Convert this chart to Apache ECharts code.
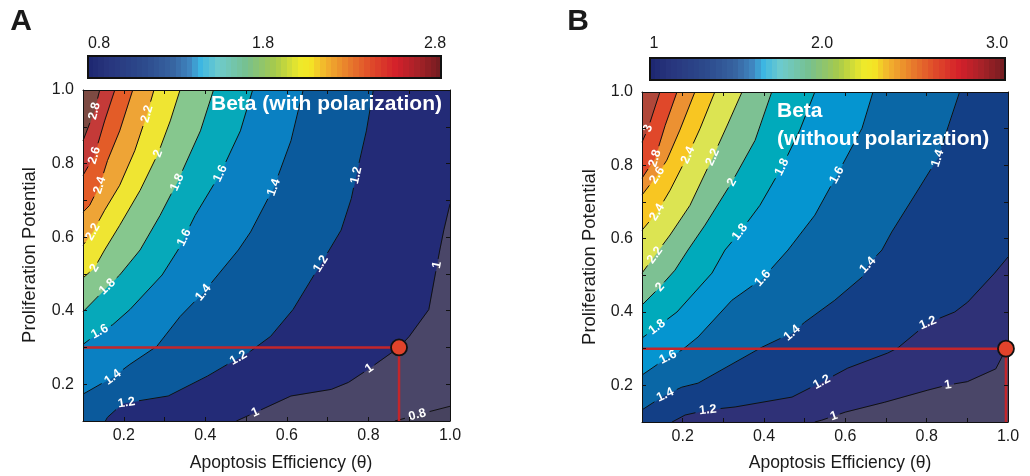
<!DOCTYPE html>
<html><head><meta charset="utf-8">
<script src="https://cdn.jsdelivr.net/npm/echarts@6/dist/echarts.min.js"></script>
<style>html,body{margin:0;padding:0;background:#fff}#c{width:1030px;height:476px}</style>
</head><body><div id="c"></div>
<script>
// ---------- DATA (theta = apoptosis efficiency, P = proliferation potential) ----------
const xTicks = [0.2, 0.4, 0.6, 0.8, 1.0];
const yTicks = [0.2, 0.4, 0.6, 0.8, 1.0];
const cbarTicksA = ['0.8', '1.8', '2.8'];
const cbarTicksB = ['1', '2.0', '3.0'];

// Panel A contour levels and lines (each from upper/right end to left/bottom end)
const levelsA = [0.8, 1.0, 1.2, 1.4, 1.6, 1.8, 2.0, 2.2, 2.4, 2.6, 2.8];
const cA08 = [[1.0,0.14],[0.93,0.12],[0.865,0.1]];
const cA10 = [[1.0,0.69],[0.985,0.62],[0.975,0.565],[0.968,0.524],[0.948,0.403],[0.90,0.33],[0.875,0.3],[0.80,0.241],[0.751,0.205],[0.709,0.186],[0.61,0.168],[0.524,0.124],[0.476,0.1]];
const cA12 = [[0.812,1.0],[0.795,0.889],[0.77,0.768],[0.758,0.705],[0.733,0.619],[0.704,0.565],[0.615,0.403],[0.56,0.33],[0.511,0.29],[0.479,0.27],[0.405,0.222],[0.309,0.168],[0.198,0.148],[0.16,0.11],[0.155,0.1]];
const cA14 = [[0.64,1.0],[0.61,0.862],[0.568,0.735],[0.511,0.614],[0.481,0.565],[0.395,0.449],[0.338,0.384],[0.281,0.303],[0.215,0.254],[0.173,0.219],[0.1,0.173]];
const cA16 = [[0.516,1.0],[0.486,0.889],[0.437,0.773],[0.375,0.659],[0.333,0.565],[0.294,0.497],[0.215,0.403],[0.173,0.362],[0.141,0.343],[0.1,0.308]];
const cA18 = [[0.42,1.0],[0.388,0.889],[0.331,0.749],[0.289,0.659],[0.24,0.565],[0.19,0.497],[0.16,0.465],[0.1,0.397]];
const cA20 = [[0.338,1.0],[0.314,0.916],[0.284,0.827],[0.24,0.727],[0.19,0.632],[0.153,0.565],[0.128,0.516],[0.1,0.489]];
const cA22 = [[0.274,1.0],[0.257,0.935],[0.227,0.835],[0.19,0.741],[0.153,0.673],[0.124,0.614],[0.1,0.578]];
const cA24 = [[0.222,1.0],[0.19,0.889],[0.16,0.808],[0.141,0.741],[0.116,0.686],[0.1,0.668]];
const cA26 = [[0.178,1.0],[0.153,0.916],[0.128,0.822],[0.1,0.768]];
const cA28 = [[0.141,1.0],[0.128,0.943],[0.1,0.862]];
// inline labels: [level, theta, P]
const labelsA = [[2.8,0.128,0.943],[2.6,0.128,0.822],[2.4,0.141,0.741],[2.2,0.257,0.935],[2.2,0.124,0.614],
  [2.0,0.284,0.827],[2.0,0.128,0.516],[1.8,0.331,0.749],[1.8,0.16,0.465],[1.6,0.437,0.773],[1.6,0.351,0.597],[1.6,0.141,0.343],
  [1.4,0.568,0.735],[1.4,0.395,0.449],[1.4,0.173,0.219],[1.2,0.77,0.768],[1.2,0.679,0.53],[1.2,0.479,0.276],[1.2,0.207,0.146],
  [1.0,0.968,0.524],[1.0,0.80,0.246],[1.0,0.519,0.132],[0.8,0.918,0.124]];
const markerA = [0.875, 0.3];

// Panel B
const levelsB = [1.0, 1.2, 1.4, 1.6, 1.8, 2.0, 2.2, 2.4, 2.6, 2.8, 3.0];
const cB10 = [[1.0,0.31],[0.97,0.245],[0.90,0.21],[0.852,0.201],[0.803,0.187],[0.697,0.154],[0.60,0.127],[0.542,0.105],[0.525,0.1]];
const cB12 = [[1.0,0.55],[0.967,0.506],[0.901,0.427],[0.869,0.40],[0.803,0.37],[0.729,0.302],[0.704,0.288],[0.606,0.247],[0.542,0.209],[0.469,0.168],[0.329,0.141],[0.262,0.133],[0.206,0.119],[0.174,0.1]];
const cB14 = [[0.881,1.0],[0.827,0.819],[0.771,0.719],[0.714,0.618],[0.69,0.569],[0.655,0.528],[0.641,0.495],[0.574,0.432],[0.50,0.372],[0.469,0.343],[0.395,0.304],[0.238,0.206],[0.198,0.195],[0.157,0.174],[0.1,0.133]];
const cB16 = [[0.668,1.0],[0.641,0.901],[0.579,0.773],[0.525,0.664],[0.459,0.569],[0.397,0.492],[0.321,0.432],[0.238,0.332],[0.198,0.296],[0.164,0.277],[0.1,0.228]];
const cB18 = [[0.525,1.0],[0.488,0.896],[0.444,0.795],[0.39,0.691],[0.341,0.618],[0.304,0.569],[0.272,0.506],[0.186,0.40],[0.137,0.359],[0.1,0.329]];
const cB20 = [[0.419,1.0],[0.378,0.868],[0.321,0.754],[0.255,0.637],[0.213,0.569],[0.181,0.514],[0.144,0.468],[0.1,0.419]];
const cB22 = [[0.346,1.0],[0.31,0.91],[0.274,0.822],[0.218,0.691],[0.169,0.61],[0.132,0.555],[0.1,0.506]];
const cB24 = [[0.279,1.0],[0.243,0.901],[0.213,0.828],[0.169,0.732],[0.137,0.672],[0.1,0.623]];
const cB26 = [[0.23,1.0],[0.193,0.896],[0.161,0.814],[0.137,0.773],[0.1,0.719]];
const cB28 = [[0.186,1.0],[0.157,0.909],[0.132,0.819],[0.1,0.765]];
const cB30 = [[0.144,1.0],[0.115,0.901],[0.1,0.863]];
const labelsB = [[3.0,0.115,0.901],[2.8,0.132,0.819],[2.6,0.137,0.773],[2.4,0.213,0.828],[2.4,0.137,0.672],
  [2.2,0.274,0.822],[2.2,0.132,0.555],[2.0,0.321,0.754],[2.0,0.144,0.468],[1.8,0.444,0.795],[1.8,0.341,0.618],[1.8,0.137,0.359],
  [1.6,0.579,0.773],[1.6,0.397,0.492],[1.6,0.164,0.277],[1.4,0.827,0.819],[1.4,0.655,0.528],[1.4,0.469,0.343],[1.4,0.157,0.174],
  [1.2,0.803,0.37],[1.2,0.542,0.209],[1.2,0.262,0.133],[1.0,0.852,0.201],[1.0,0.569,0.125]];
const markerB = [0.995, 0.3];

// ---------- STYLE ----------
const fillA = ['#47435f','#4a4668','#232b77','#0b5a9c','#0a80c2','#06a9ba','#86c78e','#efe532','#eea436','#e35c28','#c43a38','#7c4a42'];
const fillB = ['#4a4668','#2f3177','#133f86','#0a67a6','#0595d0','#00aabb','#7dc193','#dce452','#f8c622','#ec9132','#e0482a','#b0473a'];
const cmapStops = [[0,'#1d2670'],[0.06,'#28357d'],[0.16,'#2c4a8c'],[0.24,'#3763a0'],[0.29,'#3f86c0'],[0.32,'#3db6e2'],[0.37,'#6ecbcd'],[0.45,'#77c08e'],[0.53,'#a7ca4b'],[0.6,'#eee92a'],[0.63,'#f4e524'],[0.67,'#f2b42d'],[0.73,'#e9822c'],[0.8,'#df4b2a'],[0.87,'#d4202a'],[0.93,'#a82228'],[1,'#701c20']];
const FONT = '"Liberation Sans", Arial, sans-serif';

const contoursA = [cA08,cA10,cA12,cA14,cA16,cA18,cA20,cA22,cA24,cA26,cA28];
const contoursB = [cB10,cB12,cB14,cB16,cB18,cB20,cB22,cB24,cB26,cB28,cB30];

const corners = [[0.1,0.1],[0.1,1.0],[1.0,1.0],[1.0,0.1]];
function perimS(pt){
  const t=pt[0], p=pt[1], e=1e-6;
  if (Math.abs(t-0.1)<e) return (p-0.1)/0.9;
  if (Math.abs(p-1.0)<e) return 1+(t-0.1)/0.9;
  if (Math.abs(t-1.0)<e) return 2+(1.0-p)/0.9;
  return 3+(1.0-t)/0.9;
}
function regionPoly(pts){
  const sS=perimS(pts[0]), sE=perimS(pts[pts.length-1]);
  let target=sS; if (target<=sE) target+=4;
  const out=pts.slice();
  for (let k=Math.floor(sE)+1; k<target; k++) out.push(corners[k%4]);
  return out;
}
function fillSeries(ax, contours, colors){
  const polys = contours.map(regionPoly);
  return {type:'custom', xAxisIndex:ax, yAxisIndex:ax, z:1, silent:true, clip:true,
    data: colors.map(()=>[0.5,0.5]),
    renderItem(params, api){
      const i=params.dataIndex;
      const pts = i===0 ? corners : polys[i-1];
      return {type:'polygon', shape:{points: pts.map(p=>api.coord(p))},
        style:{fill:colors[i], stroke:colors[i], lineWidth:0.6}};
    }};
}
function pointAt(px,cum,s){
  for (let k=1;k<px.length;k++){
    if (s<=cum[k] || k===px.length-1){
      const L=cum[k]-cum[k-1]||1, t=Math.max(0,Math.min(1,(s-cum[k-1])/L));
      return [px[k-1][0]+t*(px[k][0]-px[k-1][0]), px[k-1][1]+t*(px[k][1]-px[k-1][1])];
    }
  }
  return px[px.length-1];
}
function subLine(px,cum,a,b){
  const out=[pointAt(px,cum,a)];
  for (let k=0;k<px.length;k++) if (cum[k]>a && cum[k]<b) out.push(px[k]);
  out.push(pointAt(px,cum,b));
  return out;
}
function fmtLevel(v){ return String(Math.round(v*10)/10); }
function lineSeries(ax, levels, contours, labels){
  return {type:'custom', xAxisIndex:ax, yAxisIndex:ax, z:3, silent:true,
    data: levels.map(()=>[0.5,0.5]),
    renderItem(params, api){
      const i=params.dataIndex, lv=levels[i];
      const px=contours[i].map(p=>api.coord(p));
      const cum=[0];
      for (let k=1;k<px.length;k++) cum.push(cum[k-1]+Math.hypot(px[k][0]-px[k-1][0], px[k][1]-px[k-1][1]));
      const gaps=[], texts=[];
      labels.filter(l=>Math.abs(l[0]-lv)<1e-6).forEach(l=>{
        const q=api.coord([l[1],l[2]]);
        let best=null;
        for (let k=1;k<px.length;k++){
          const a=px[k-1], b=px[k], dx=b[0]-a[0], dy=b[1]-a[1], L2=dx*dx+dy*dy||1;
          let t=((q[0]-a[0])*dx+(q[1]-a[1])*dy)/L2; t=Math.max(0,Math.min(1,t));
          const x=a[0]+t*dx, y=a[1]+t*dy, d=Math.hypot(q[0]-x,q[1]-y);
          if (!best || d<best.d) best={d,x,y,s:cum[k-1]+t*Math.sqrt(L2),dx,dy};
        }
        const text=fmtLevel(lv), w=text.length*6.5+6;
        gaps.push([best.s-w/2, best.s+w/2]);
        let rot=Math.atan2(-best.dy,best.dx);
        if (rot>Math.PI/2) rot-=Math.PI; if (rot<-Math.PI/2) rot+=Math.PI;
        texts.push({type:'text', x:best.x, y:best.y, rotation:rot,
          style:{text, fill:'#fff', font:'bold 12.5px '+FONT, align:'center', verticalAlign:'middle'}});
      });
      gaps.sort((a,b)=>a[0]-b[0]);
      const total=cum[cum.length-1], pieces=[]; let s=0;
      gaps.forEach(g=>{ if (g[0]>s) pieces.push([s,g[0]]); s=Math.max(s,g[1]); });
      if (s<total) pieces.push([s,total]);
      const children = pieces.map(([a,b])=>({type:'polyline', shape:{points:subLine(px,cum,a,b)},
        style:{stroke:'#111', lineWidth:1, fill:null}}));
      return {type:'group', children: children.concat(texts)};
    }};
}
function redSeries(ax, m){
  return [
    {type:'line', xAxisIndex:ax, yAxisIndex:ax, z:5, silent:true, symbol:'none', animation:false,
      data:[[0.1,m[1]],[m[0],m[1]],[m[0],0.1]], lineStyle:{color:'#c4262b', width:2.5}},
    {type:'scatter', xAxisIndex:ax, yAxisIndex:ax, z:15, silent:true, clip:false, animation:false,
      data:[m], symbolSize:16, itemStyle:{color:'#e1432b', borderColor:'#111', borderWidth:1.8, opacity:1}}
  ];
}
function lbl(v){ const k=Math.round(v*10); return xTicks.some(t=>Math.round(t*10)===k) ? (k/10).toFixed(1) : ''; }
function lblY(v){ const k=Math.round(v*10); return yTicks.some(t=>Math.round(t*10)===k) ? (k/10).toFixed(1) : ''; }
function axisBase(grid, pos, showLabel, isY){
  return {gridIndex:grid, type:'value', min:0.1, max:1.0, interval:0.1, position:pos, z:10,
    axisLine:{show:true, onZero:false, lineStyle:{color:'#111', width:1}},
    axisTick:{show:true, inside:true, length:4, lineStyle:{color:'#111', width:1}},
    splitLine:{show:false},
    axisLabel:{show:showLabel, formatter:isY?lblY:lbl, fontSize:16, fontFamily:FONT, color:'#1a1a1a', margin:isY?9:7}};
}
function cmap(t){
  for (let k=1;k<cmapStops.length;k++){
    if (t<=cmapStops[k][0]){
      const [t0,c0]=cmapStops[k-1], [t1,c1]=cmapStops[k], f=(t-t0)/(t1-t0);
      const a=[1,3,5].map(j=>parseInt(c0.substr(j,2),16)), b=[1,3,5].map(j=>parseInt(c1.substr(j,2),16));
      return 'rgb('+a.map((v,j)=>Math.round(v+f*(b[j]-v))).join(',')+')';
    }
  }
  return cmapStops[cmapStops.length-1][1];
}
const bands=[]; const NB=64;
for (let b=0;b<NB;b++){ const c=cmap((b+0.5)/NB); bands.push({offset:b/NB,color:c},{offset:(b+1)/NB,color:c}); }
function cbar(x,y,w,h){
  return {type:'rect', shape:{x,y,width:w,height:h}, z:10,
    style:{fill:new echarts.graphic.LinearGradient(0,0,1,0,bands), stroke:'#111', lineWidth:2}};
}
function txt(x,y,text,font,align,extra){
  return Object.assign({type:'text', x, y, z:20, silent:true,
    style:{text, font, fill:'#1a1a1a', align:align||'center', verticalAlign:'middle', textAlign:align||'center', textVerticalAlign:'middle'}}, extra||{});
}

const chart = echarts.init(document.getElementById('c'));
chart.setOption({
  animation:false,
  backgroundColor:'#fff',
  grid:[{left:83, top:90, width:367, height:331}, {left:642, top:92, width:366, height:330}],
  xAxis:[axisBase(0,'bottom',true,false), axisBase(0,'top',false,false), axisBase(1,'bottom',true,false), axisBase(1,'top',false,false)],
  yAxis:[axisBase(0,'left',true,true), axisBase(0,'right',false,true), axisBase(1,'left',true,true), axisBase(1,'right',false,true)],
  series:[
    fillSeries(0, contoursA, fillA), lineSeries(0, levelsA, contoursA, labelsA), ...redSeries(0, markerA),
    fillSeries(2, contoursB, fillB), lineSeries(2, levelsB, contoursB, labelsB), ...redSeries(2, markerB)
  ],
  graphic:[
    txt(21,22,'A','bold 30px '+FONT),
    txt(578,22,'B','bold 30px '+FONT),
    cbar(88,56,353,22),
    cbar(650,58,355,22),
    txt(99,44,cbarTicksA[0],'16px '+FONT), txt(263,44,cbarTicksA[1],'16px '+FONT), txt(435,44,cbarTicksA[2],'16px '+FONT),
    txt(654,44,cbarTicksB[0],'16px '+FONT), txt(822,44,cbarTicksB[1],'16px '+FONT), txt(997,44,cbarTicksB[2],'16px '+FONT),
    txt(281,463,'Apoptosis Efficiency (θ)','17.5px '+FONT),
    txt(840,463,'Apoptosis Efficiency (θ)','17.5px '+FONT),
    txt(30,255,'Proliferation Potential','18.5px '+FONT,'center',{rotation:Math.PI/2}),
    txt(590,257,'Proliferation Potential','18.5px '+FONT,'center',{rotation:Math.PI/2}),
    {type:'text', x:211, y:104, z:20, silent:true, style:{text:'Beta (with polarization)', font:'bold 21px '+FONT, fill:'#fff', align:'left', verticalAlign:'middle'}},
    {type:'text', x:777, y:111, z:20, silent:true, style:{text:'Beta', font:'bold 21px '+FONT, fill:'#fff', align:'left', verticalAlign:'middle'}},
    {type:'text', x:777, y:139, z:20, silent:true, style:{text:'(without polarization)', font:'bold 21px '+FONT, fill:'#fff', align:'left', verticalAlign:'middle'}}
  ]
});
</script></body></html>
